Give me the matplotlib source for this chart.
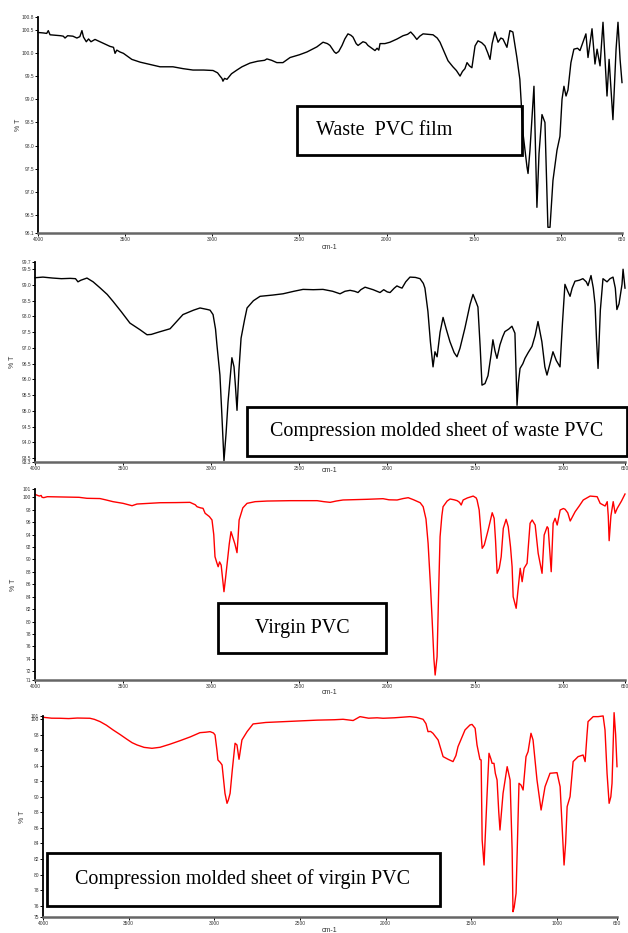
import matplotlib
matplotlib.use("Agg")
import matplotlib.pyplot as plt
from matplotlib.patches import Rectangle

plt.rcParams["font.family"] = ["Liberation Sans", "DejaVu Sans"]

# FTIR spectra, wavenumber (cm-1) vs %T
wn_waste_film = [4000, 3970, 3950, 3941, 3931, 3900, 3870, 3855, 3845, 3830, 3800, 3777, 3760, 3748, 3739,
                 3723, 3710, 3696, 3673, 3644, 3610, 3587, 3567, 3558, 3548, 3530, 3510, 3462, 3414, 3357,
                 3300, 3226, 3168, 3111, 3050, 2996, 2970, 2956, 2945, 2939, 2930, 2916, 2890, 2859, 2830,
                 2784, 2740, 2700, 2687, 2660, 2630, 2595, 2554, 2500, 2457, 2400, 2365, 2340, 2325, 2300,
                 2290, 2275, 2256, 2240, 2222, 2205, 2193, 2175, 2164, 2150, 2136, 2120, 2107, 2085, 2067,
                 2055, 2045, 2038, 2010, 1981, 1940, 1906, 1880, 1862, 1845, 1827, 1810, 1791, 1760, 1734,
                 1710, 1694, 1670, 1648, 1620, 1600, 1579, 1565, 1551, 1539, 1525, 1511, 1493, 1476, 1455,
                 1436, 1420, 1407, 1395, 1379, 1361, 1345, 1333, 1310, 1293, 1276, 1253, 1236, 1218, 1195,
                 1189, 1178, 1155, 1138, 1126, 1109, 1092, 1075, 1063, 1046, 1023, 1006, 994, 983, 971,
                 960, 943, 926, 905, 891, 874, 857, 845, 822, 805, 793, 776, 759, 736, 724,
                 702, 684, 673, 661, 650]
t_waste_film = [100.44, 100.43, 100.42, 100.48, 100.39, 100.38, 100.37, 100.36, 100.32, 100.37, 100.36, 100.32,
                100.35, 100.48, 100.34, 100.24, 100.30, 100.24, 100.29, 100.24, 100.18, 100.14, 100.12, 99.99,
                100.06, 100.02, 99.99, 99.86, 99.80, 99.75, 99.70, 99.70, 99.66, 99.63, 99.63, 99.62, 99.57,
                99.50, 99.45, 99.39, 99.45, 99.43, 99.55, 99.63, 99.70, 99.78, 99.82, 99.84, 99.87, 99.84,
                99.79, 99.79, 99.90, 99.96, 100.02, 100.13, 100.23, 100.20, 100.16, 100.02, 99.99, 100.03,
                100.16, 100.30, 100.41, 100.38, 100.34, 100.20, 100.16, 100.20, 100.24, 100.22, 100.16, 100.10,
                100.05, 100.10, 100.06, 100.20, 100.20, 100.23, 100.30, 100.37, 100.40, 100.45, 100.38, 100.29,
                100.36, 100.41, 100.40, 100.39, 100.32, 100.23, 100.02, 99.83, 99.70, 99.62, 99.50, 99.60,
                99.66, 99.79, 99.72, 99.68, 100.15, 100.26, 100.22, 100.15, 100.00, 99.86, 100.20, 100.45,
                100.23, 100.32, 100.30, 100.12, 100.48, 100.45, 99.90, 99.43, 98.27, 97.54, 97.40, 97.90,
                99.28, 96.67, 97.83, 98.67, 98.50, 96.24, 96.24, 97.25, 97.90, 98.20, 99.00, 99.28, 99.07,
                99.20, 99.79, 100.08, 100.10, 100.05, 100.23, 100.41, 99.90, 100.52, 99.76, 100.08, 99.72,
                100.66, 99.07, 99.86, 98.56, 100.08, 100.66, 99.86, 99.36]

wn_waste_sheet = [4000, 3955, 3900, 3850, 3800, 3770, 3756, 3740, 3705, 3670, 3631, 3590, 3557, 3510, 3461,
                  3404, 3364, 3340, 3300, 3233, 3160, 3100, 3063, 3020, 3006, 2989, 2975, 2967, 2950, 2940,
                  2927, 2915, 2904, 2882, 2870, 2862, 2853, 2842, 2830, 2810, 2796, 2760, 2722, 2650, 2592,
                  2530, 2478, 2420, 2365, 2310, 2268, 2240, 2211, 2185, 2166, 2150, 2126, 2080, 2041, 2020,
                  2000, 1984, 1960, 1945, 1930, 1916, 1895, 1871, 1840, 1814, 1795, 1786, 1769, 1755, 1740,
                  1729, 1717, 1700, 1683, 1665, 1644, 1620, 1604, 1587, 1559, 1530, 1513, 1495, 1485, 1472,
                  1462, 1445, 1428, 1410, 1400, 1388, 1377, 1360, 1345, 1332, 1310, 1292, 1275, 1263, 1255,
                  1246, 1230, 1218, 1200, 1178, 1160, 1144, 1132, 1122, 1105, 1093, 1076, 1059, 1040, 1019,
                  1005, 991, 975, 962, 950, 934, 910, 889, 870, 860, 843, 830, 820, 812, 803,
                  790, 775, 752, 735, 718, 705, 696, 684, 667, 661, 650]
t_waste_sheet = [99.23, 99.25, 99.22, 99.20, 99.21, 99.20, 99.10, 99.15, 99.22, 99.10, 98.91, 98.70, 98.48,
                 98.15, 97.79, 97.58, 97.42, 97.43, 97.50, 97.61, 98.06, 98.20, 98.27, 98.22, 98.20, 98.06,
                 97.60, 97.10, 96.14, 95.00, 93.42, 94.30, 95.28, 96.69, 96.40, 95.80, 95.02, 96.30, 97.31,
                 97.90, 98.27, 98.50, 98.64, 98.68, 98.72, 98.80, 98.86, 98.85, 98.86, 98.80, 98.72, 98.80,
                 98.83, 98.80, 98.76, 98.85, 98.93, 98.85, 98.76, 98.85, 98.78, 98.76, 98.90, 98.97, 98.93,
                 98.90, 99.10, 99.25, 99.24, 99.20, 99.05, 98.90, 98.16, 97.20, 96.40, 96.88, 96.72, 97.50,
                 97.97, 97.60, 97.20, 96.85, 96.72, 96.99, 97.63, 98.38, 98.70, 98.45, 98.30, 97.00, 95.82,
                 95.87, 96.12, 96.80, 97.26, 96.90, 96.67, 97.10, 97.35, 97.52, 97.60, 97.69, 97.47, 95.18,
                 95.90, 96.35, 96.50, 96.67, 96.85, 97.05, 97.40, 97.84, 97.50, 97.20, 96.40, 96.14, 96.50,
                 96.88, 96.60, 96.40, 97.80, 99.02, 98.80, 98.64, 98.90, 99.12, 99.15, 99.20, 99.10, 98.98,
                 99.30, 98.90, 98.38, 97.30, 96.35, 98.20, 99.20, 99.10, 99.20, 99.25, 98.90, 98.22, 98.40,
                 99.02, 99.50, 98.90]

wn_virgin = [4000, 3985, 3975, 3965, 3960, 3950, 3930, 3850, 3750, 3720, 3705, 3631, 3600, 3557, 3500,
             3470, 3449, 3421, 3347, 3290, 3200, 3120, 3090, 3080, 3060, 3046, 3034, 3010, 2995, 2985,
             2978, 2968, 2960, 2952, 2943, 2935, 2927, 2918, 2909, 2897, 2887, 2875, 2865, 2853, 2847,
             2841, 2820, 2796, 2750, 2682, 2550, 2398, 2360, 2324, 2290, 2251, 2180, 2115, 2060, 2024,
             1990, 1944, 1910, 1881, 1850, 1813, 1796, 1780, 1768, 1755, 1745, 1735, 1728, 1717, 1708,
             1700, 1690, 1683, 1660, 1643, 1620, 1603, 1590, 1580, 1569, 1545, 1512, 1495, 1490, 1478,
             1461, 1449, 1427, 1404, 1393, 1385, 1376, 1364, 1353, 1341, 1325, 1313, 1300, 1291, 1285,
             1268, 1256, 1245, 1234, 1223, 1206, 1189, 1177, 1160, 1143, 1121, 1109, 1092, 1086, 1069,
             1058, 1047, 1035, 1018, 1000, 990, 975, 961, 933, 910, 887, 848, 808, 791, 763,
             751, 745, 740, 730, 717, 706, 694, 670, 650]
t_virgin = [100.48, 100.30, 100.20, 100.30, 100.00, 99.95, 100.10, 100.05, 100.00, 99.90, 99.84, 99.80, 99.60,
            99.30, 99.03, 98.80, 98.65, 98.92, 99.03, 99.13, 99.15, 99.19, 98.80, 98.49, 98.30, 98.23, 97.43,
            96.90, 96.35, 94.00, 90.44, 89.50, 88.83, 89.60, 89.10, 87.00, 84.81, 87.00, 89.38, 92.50, 94.47,
            93.40, 92.50, 91.09, 93.50, 96.35, 98.30, 99.03, 99.30, 99.40, 99.46, 99.46, 99.30, 99.19, 99.40,
            99.57, 99.62, 99.68, 99.75, 99.78, 99.60, 99.57, 99.80, 99.94, 99.60, 99.13, 98.49, 96.50, 92.60,
            86.00, 80.26, 74.00, 71.40, 74.35, 85.00, 93.66, 97.00, 98.49, 99.40, 99.73, 99.60, 99.46, 99.20,
            98.76, 99.57, 99.90, 100.20, 99.90, 99.57, 97.96, 91.79, 92.32, 94.74, 97.52, 96.62, 93.00, 87.77,
            88.58, 90.44, 95.01, 96.46, 95.27, 92.00, 88.83, 84.00, 82.14, 85.50, 88.58, 86.42, 88.58, 89.38,
            95.82, 96.35, 95.54, 90.99, 87.77, 93.93, 95.27, 95.01, 88.03, 95.82, 96.62, 95.54, 97.96, 98.20,
            98.07, 97.50, 96.19, 97.69, 98.60, 99.57, 100.20, 100.10, 99.03, 98.60, 99.30, 97.00, 93.02, 97.00,
            99.30, 97.43, 98.23, 99.40, 100.53]

wn_virgin_sheet = [4000, 3950, 3901, 3850, 3800, 3726, 3700, 3667, 3630, 3591, 3550, 3510, 3480, 3451, 3410,
                   3364, 3317, 3260, 3200, 3140, 3084, 3050, 3025, 3005, 2996, 2985, 2979, 2965, 2955, 2945,
                   2938, 2926, 2918, 2908, 2895, 2879, 2868, 2856, 2848, 2839, 2809, 2774, 2700, 2600, 2500,
                   2400, 2300, 2249, 2210, 2190, 2150, 2100, 2050, 2015, 1950, 1858, 1820, 1782, 1765, 1753,
                   1738, 1724, 1694, 1665, 1636, 1607, 1590, 1578, 1537, 1508, 1496, 1478, 1467, 1450, 1443,
                   1437, 1426, 1408, 1397, 1385, 1379, 1368, 1360, 1350, 1340, 1333, 1315, 1291, 1274, 1262,
                   1257, 1250, 1239, 1230, 1222, 1210, 1198, 1181, 1169, 1152, 1140, 1117, 1093, 1070, 1041,
                   1000, 982, 970, 959, 950, 941, 924, 906, 877, 848, 836, 825, 819, 789, 760,
                   731, 720, 708, 696, 686, 679, 672, 667, 658, 650]
t_virgin_sheet = [100.22, 100.10, 100.09, 100.05, 100.12, 100.09, 99.95, 99.66, 99.20, 98.59, 98.00, 97.39,
                  96.95, 96.66, 96.35, 96.23, 96.36, 96.75, 97.21, 97.70, 98.24, 98.30, 98.37, 98.20, 97.94,
                  96.00, 94.73, 94.40, 94.09, 92.00, 90.45, 89.16, 89.60, 90.45, 93.50, 96.88, 96.66, 94.82,
                  96.00, 97.30, 98.37, 99.36, 99.55, 99.65, 99.74, 99.85, 99.90, 99.96, 99.85, 99.80, 100.30,
                  100.10, 100.15, 100.09, 100.15, 100.30, 100.20, 99.96, 99.40, 98.37, 98.40, 98.16, 97.30,
                  95.16, 94.82, 94.52, 95.30, 96.44, 98.59, 99.23, 99.30, 98.80, 96.66, 94.80, 94.73, 84.45,
                  81.23, 90.45, 95.59, 94.80, 94.30, 94.30, 93.00, 92.16, 88.00, 85.73, 90.45, 93.87, 92.16,
                  83.16, 75.23, 75.80, 77.60, 85.00, 91.73, 91.50, 90.87, 95.16, 95.80, 98.16, 97.30, 92.16,
                  88.30, 91.30, 93.02, 93.10, 91.30, 86.00, 81.23, 84.00, 88.73, 90.02, 94.52, 95.16, 95.37,
                  94.52, 98.00, 99.66, 100.30, 100.30, 100.39, 98.59, 93.00, 89.16, 90.00, 91.73, 97.00, 100.81,
                  98.00, 93.87]

x_ticks = [4000, 3500, 3000, 2500, 2000, 1500, 1000, 650]

W, H = 628, 933
fig = plt.figure(figsize=(W / 100, H / 100), dpi=100)


def px_rect(left, top, right, bottom):
    return [left / W, 1 - bottom / H, (right - left) / W, (bottom - top) / H]


def panel(box, wn, t, color, ylim, yticks, ylabels, ylab_x, xlab_y):
    ax = fig.add_axes(px_rect(*box))
    ax.plot(wn, t, color=color, lw=1.0, clip_on=False)
    ax.set_xlim(4000, 650)
    ax.set_ylim(*ylim)
    ax.set_xticks(x_ticks)
    ax.set_xticklabels([str(v) for v in x_ticks])
    ax.set_yticks(yticks)
    ax.set_yticklabels(ylabels)
    for s in ["top", "right"]:
        ax.spines[s].set_visible(False)
    ax.spines["left"].set_linewidth(1.3)
    ax.spines["bottom"].set_color("#666666")
    ax.spines["bottom"].set_linewidth(1.8)
    ax.tick_params(axis="both", labelsize=3.5, labelcolor="#333333", length=2, width=0.7, pad=0.8)
    ax.patch.set_alpha(0)
    cx = (box[0] + box[2]) / 2
    fig.text(ylab_x / W, 1 - (box[1] + box[3]) / 2 / H, "% T", rotation=90, fontsize=5,
             ha="center", va="center", color="#333333")
    fig.text(cx / W, 1 - xlab_y / H, "cm-1", fontsize=5, ha="center", va="center", color="#333333")
    return ax


def label_box(left, top, right, bottom, text, tx, size):
    fig.add_artist(Rectangle((left / W, 1 - bottom / H), (right - left) / W, (bottom - top) / H,
                             transform=fig.transFigure, fill=False, lw=2.0, ec="black"))
    fig.text(tx / W, 1 - (top + bottom) / 2 / H, text, family="Liberation Serif", fontsize=size,
             ha="left", va="center")


yt1 = [96.11, 96.5, 97.0, 97.5, 98.0, 98.5, 99.0, 99.5, 100.0, 100.5, 100.78]
panel((38, 16.7, 622, 233.3), wn_waste_film, t_waste_film, "black", (96.11, 100.78), yt1,
      ["96.1", "96.5", "97.0", "97.5", "98.0", "98.5", "99.0", "99.5", "100.0", "100.5", "100.8"], 18, 248)

yt2 = [93.37, 93.5, 94.0, 94.5, 95.0, 95.5, 96.0, 96.5, 97.0, 97.5, 98.0, 98.5, 99.0, 99.5, 99.72]
panel((35, 262.3, 625, 462.3), wn_waste_sheet, t_waste_sheet, "black", (93.37, 99.72), yt2,
      ["93.3", "93.5", "94.0", "94.5", "95.0", "95.5", "96.0", "96.5", "97.0", "97.5", "98.0", "98.5",
       "99.0", "99.5", "99.7"], 13, 471)

yt3 = [70.6] + list(range(72, 101, 2)) + [101.29]
panel((35, 489.3, 625, 680), wn_virgin, t_virgin, "red", (70.6, 101.29), yt3,
      ["71"] + [str(v) for v in range(72, 101, 2)] + ["101"], 14, 693)

yt4 = [74.55] + list(range(76, 101, 2)) + [100.42]
panel((43, 715.7, 617, 917), wn_virgin_sheet, t_virgin_sheet, "red", (74.55, 100.42), yt4,
      ["75"] + [str(v) for v in range(76, 101, 2)] + ["101"], 22, 930)

label_box(297, 106, 522, 155, "Waste  PVC film", 316, 14.5)
label_box(247, 407, 627, 456, "Compression molded sheet of waste PVC", 270, 14.4)
label_box(218, 603, 386, 653, "Virgin PVC", 255, 14.4)
label_box(47, 853, 440, 906, "Compression molded sheet of virgin PVC", 75, 14.4)

fig.savefig("out.png", dpi=100)
